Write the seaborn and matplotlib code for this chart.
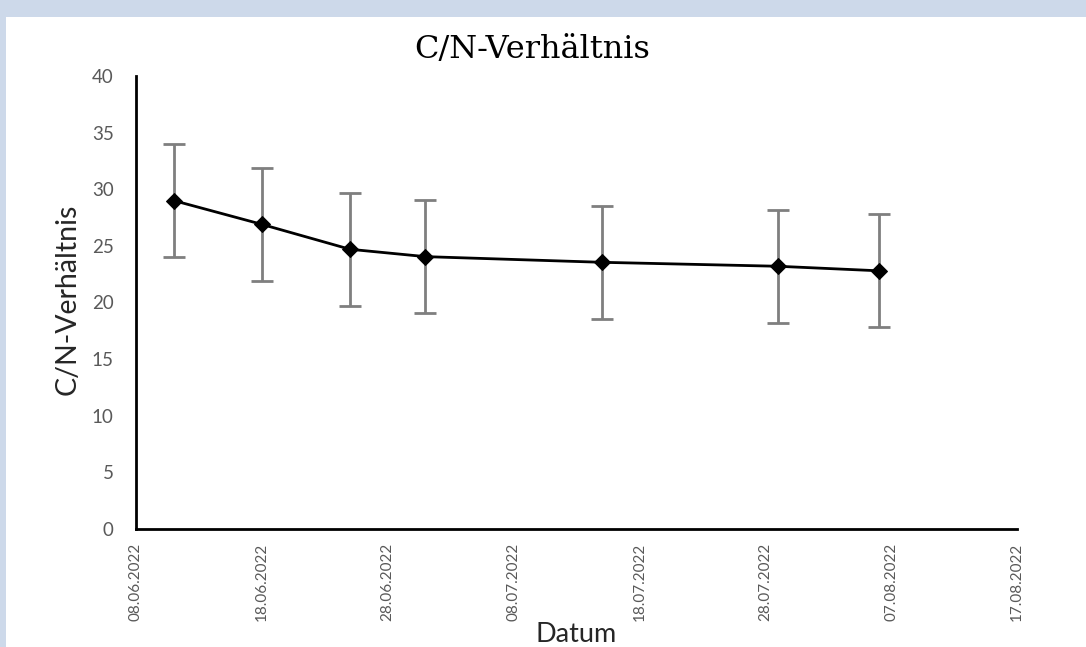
import pandas as pd
import seaborn as sns
import matplotlib.pyplot as plt
import matplotlib.dates as mdates
from matplotlib.patches import Rectangle

# data
dates = ['2022-06-11', '2022-06-18', '2022-06-25', '2022-07-01',
         '2022-07-15', '2022-07-29', '2022-08-06']
cn_ratio = [29.0, 26.9, 24.7, 24.05, 23.55, 23.2, 22.8]
cn_err = [5, 5, 5, 5, 5, 5, 5]
tick_dates = ['2022-06-08', '2022-06-18', '2022-06-28', '2022-07-08',
              '2022-07-18', '2022-07-28', '2022-08-07', '2022-08-17']
y_ticks = [0, 5, 10, 15, 20, 25, 30, 35, 40]

df = pd.DataFrame({'Datum': pd.to_datetime(dates), 'CN': cn_ratio, 'err': cn_err})

sns.set_style('white')
plt.rcParams['font.family'] = ['Lato', 'DejaVu Sans']

fig = plt.figure(figsize=(10.86, 6.47), dpi=100, facecolor='#cdd9ea')
# white slide area (screenshot background)
fig.patches.append(Rectangle((6 / 1086, 0), 1, 1 - 17 / 647, transform=fig.transFigure,
                             facecolor='white', edgecolor='none', zorder=-10))
ax = fig.add_axes([136 / 1086, 1 - 529 / 647, (1017 - 136) / 1086, (529 - 76) / 647])
ax.set_facecolor('none')
ax.set_zorder(5)

ax.errorbar(df['Datum'], df['CN'], yerr=df['err'], fmt='none', ecolor='#7f7f7f',
            elinewidth=2, capsize=8, capthick=2, zorder=2)
sns.lineplot(data=df, x='Datum', y='CN', ax=ax, color='black', linewidth=2,
             marker='D', markersize=8, markeredgecolor='black', zorder=3)

ax.set_xlim(pd.Timestamp(tick_dates[0]), pd.Timestamp(tick_dates[-1]))
ax.set_ylim(0, 40)
ax.set_xticks(pd.to_datetime(tick_dates))
ax.xaxis.set_major_formatter(mdates.DateFormatter('%d.%m.%Y'))
ax.set_yticks(y_ticks)
for lab in ax.get_xticklabels():
    lab.set_rotation(90)
    lab.set_fontsize(11)
    lab.set_color('#595959')
for lab in ax.get_yticklabels():
    lab.set_fontsize(13.5)
    lab.set_color('#595959')
ax.tick_params(axis='x', length=0, pad=10)
ax.tick_params(axis='y', length=0, pad=16)

for side in ['top', 'right']:
    ax.spines[side].set_visible(False)
for side in ['left', 'bottom']:
    ax.spines[side].set_color('black')
    ax.spines[side].set_linewidth(2)

ax.set_xlabel('Datum', fontsize=19.5)
ax.xaxis.set_label_coords(0.5, -0.205)
ax.set_ylabel('C/N-Verhältnis', fontsize=20.5)
ax.yaxis.set_label_coords(-0.063, 0.507)
fig.text(532.5 / 1086, 1 - 58 / 647, 'C/N-Verhältnis', fontsize=23,
         family='DejaVu Serif', ha='center', va='baseline', color='black')

fig.savefig('out.png', dpi=100, facecolor=fig.get_facecolor())
